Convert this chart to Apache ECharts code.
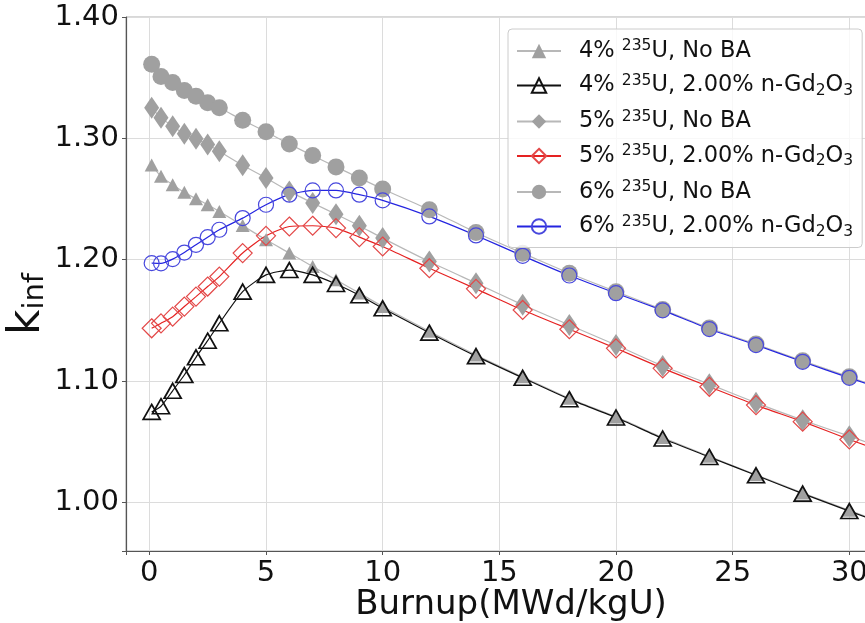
<!DOCTYPE html>
<html>
<head>
<meta charset="utf-8">
<script src="https://cdn.jsdelivr.net/npm/echarts@6/dist/echarts.min.js"></script>
<style>
  html, body { margin: 0; padding: 0; background: #fff; }
  #chart { width: 865px; height: 623px; }
</style>
</head>
<body>
<div id="chart"></div>
<script>
// Burnup steps (MWd/kgU)
const burnup = [0.1, 0.5, 1, 1.5, 2, 2.5, 3, 4, 5, 6, 7, 8, 9, 10, 12, 14, 16, 18, 20, 22, 24, 26, 28, 30, 32];

// k-infinity per case
const k4NoBA = [1.278, 1.2687, 1.2618, 1.2555, 1.2503, 1.2453, 1.2398, 1.2281, 1.2164, 1.2055, 1.1944, 1.1835, 1.1725, 1.1615, 1.141, 1.1215, 1.1035, 1.0858, 1.0705, 1.0535, 1.038, 1.0228, 1.0078, 0.9935, 0.979];
const k4Gd   = [1.0746, 1.0793, 1.092, 1.105, 1.1196, 1.1333, 1.1476, 1.1737, 1.1875, 1.1915, 1.1875, 1.18, 1.1707, 1.16, 1.1399, 1.1206, 1.1027, 1.0851, 1.07, 1.0527, 1.0375, 1.0224, 1.0073, 0.9929, 0.9785];
const k5NoBA = [1.3252, 1.3169, 1.31, 1.3037, 1.2996, 1.2949, 1.2893, 1.2778, 1.2674, 1.2563, 1.2467, 1.2375, 1.228, 1.2178, 1.1985, 1.1807, 1.1628, 1.1462, 1.1297, 1.1124, 1.0975, 1.0821, 1.0678, 1.0546, 1.041];
const k5Gd   = [1.1435, 1.1476, 1.1531, 1.1614, 1.1696, 1.1779, 1.1861, 1.2055, 1.2197, 1.2274, 1.228, 1.2261, 1.2186, 1.2109, 1.193, 1.176, 1.1586, 1.1427, 1.127, 1.1105, 1.0953, 1.0802, 1.0666, 1.0519, 1.038];
const k6NoBA = [1.361, 1.351, 1.346, 1.3395, 1.3348, 1.3293, 1.3252, 1.315, 1.3054, 1.2953, 1.2858, 1.2765, 1.2674, 1.2583, 1.2412, 1.2225, 1.2054, 1.1889, 1.1737, 1.159, 1.1437, 1.1305, 1.1167, 1.1035, 1.090];
const k6Gd   = [1.1972, 1.197, 1.2005, 1.2059, 1.2123, 1.2186, 1.2247, 1.2343, 1.2453, 1.2536, 1.2571, 1.2571, 1.2536, 1.2489, 1.2357, 1.22, 1.2032, 1.187, 1.1724, 1.1583, 1.1429, 1.1297, 1.1159, 1.1027, 1.0895];

// Legend labels (rich text: superscript mass number, subscripted formula)
const seriesNames = ['4% 235U, No BA', '4% 235U, 2.00% n-Gd2O3', '5% 235U, No BA', '5% 235U, 2.00% n-Gd2O3', '6% 235U, No BA', '6% 235U, 2.00% n-Gd2O3'];
const legendRich = {
  '4% 235U, No BA': '{t|4% }{sup|235}{t|U, No BA}',
  '4% 235U, 2.00% n-Gd2O3': '{t|4% }{sup|235}{t|U, 2.00% n-Gd}{sub|2}{t|O}{sub|3}',
  '5% 235U, No BA': '{t|5% }{sup|235}{t|U, No BA}',
  '5% 235U, 2.00% n-Gd2O3': '{t|5% }{sup|235}{t|U, 2.00% n-Gd}{sub|2}{t|O}{sub|3}',
  '6% 235U, No BA': '{t|6% }{sup|235}{t|U, No BA}',
  '6% 235U, 2.00% n-Gd2O3': '{t|6% }{sup|235}{t|U, 2.00% n-Gd}{sub|2}{t|O}{sub|3}'
};

const FONT = 'DejaVu Sans';
const pairs = ys => burnup.map((x, i) => [x, ys[i]]);

function lineSeries(name, ys, symbol, size, item, line) {
  return {
    name, type: 'line', data: pairs(ys),
    symbol, symbolSize: size,
    smooth: 0.2,
    itemStyle: item,
    lineStyle: line,
    emphasis: { disabled: true },
    clip: true
  };
}

const chart = echarts.init(document.getElementById('chart'), null, { renderer: 'canvas' });
chart.setOption({
  animation: false,
  backgroundColor: '#fff',
  grid: {
    left: 126, top: 17, right: -31, bottom: 72,
    outerBoundsMode: 'none', containLabel: false,
    show: true, borderColor: '#b0b0b0', borderWidth: 1
  },
  xAxis: {
    type: 'value', min: -1, max: 32,
    name: 'Burnup(MWd/kgU)', nameLocation: 'middle', nameGap: 37, nameMoveOverlap: false,
    nameTextStyle: { fontFamily: FONT, fontSize: 34, color: '#111' },
    axisLine: { show: true, onZero: false, lineStyle: { color: '#555', width: 1.2 } },
    axisTick: { show: true, length: 4, lineStyle: { color: '#555' } },
    axisLabel: {
      fontFamily: FONT, fontSize: 29, color: '#111', margin: 8,
      formatter: v => (Math.abs(v % 5) < 1e-9 && v >= 0 && v <= 30) ? String(v) : ''
    },
    splitLine: { show: true, lineStyle: { color: '#dcdcdc', width: 1 } }
  },
  yAxis: {
    type: 'value', min: 0.96, max: 1.40,
    name: '{k|k}{s|inf}', nameLocation: 'middle', nameGap: 76, nameRotate: 90, nameMoveOverlap: false,
    nameTextStyle: {
      padding: [0, 40, 0, 0],
      rich: {
        k: { fontFamily: FONT, fontSize: 44, color: '#111', lineHeight: 44, verticalAlign: 'top' },
        s: { fontFamily: FONT, fontSize: 29, color: '#111', lineHeight: 30, verticalAlign: 'bottom' }
      }
    },
    axisLine: { show: true, onZero: false, lineStyle: { color: '#555', width: 1.2 } },
    axisTick: { show: true, length: 4, lineStyle: { color: '#555' } },
    axisLabel: {
      fontFamily: FONT, fontSize: 29, color: '#111', margin: 7,
      formatter: v => (v < 0.98 ? '' : v.toFixed(2))
    },
    splitLine: { show: true, lineStyle: { color: '#dcdcdc', width: 1 } }
  },
  legend: {
    data: seriesNames,
    orient: 'vertical',
    left: 508, top: 29,
    padding: [9, 9, 8, 8],
    itemWidth: 44, itemHeight: 18, itemGap: 10,
    backgroundColor: 'rgba(255,255,255,0.8)',
    borderColor: '#cccccc', borderWidth: 1, borderRadius: 4,
    selectedMode: false,
    formatter: name => legendRich[name],
    textStyle: {
      padding: [0, 0, 0, 13],
      rich: {
        t: { fontFamily: FONT, fontSize: 22.5, color: '#111', lineHeight: 26 },
        sup: { fontFamily: FONT, fontSize: 15.5, color: '#111', lineHeight: 20, verticalAlign: 'top' },
        sub: { fontFamily: FONT, fontSize: 15.5, color: '#111', lineHeight: 16, verticalAlign: 'bottom' }
      }
    }
  },
  series: [
    lineSeries(seriesNames[0], k4NoBA, 'triangle', [14, 13], { color: '#a0a0a0' }, { color: '#b8b8b8', width: 1.2 }),
    lineSeries(seriesNames[1], k4Gd, 'triangle', [17, 15], { color: 'rgba(0,0,0,0)', borderColor: '#111', borderWidth: 1.7 }, { color: '#111', width: 1.2 }),
    lineSeries(seriesNames[2], k5NoBA, 'diamond', [15, 22], { color: '#a0a0a0' }, { color: '#b8b8b8', width: 1.2 }),
    lineSeries(seriesNames[3], k5Gd, 'diamond', [19, 19], { color: 'rgba(0,0,0,0)', borderColor: '#e34848', borderWidth: 1.2 }, { color: '#e52222', width: 1.2 }),
    lineSeries(seriesNames[4], k6NoBA, 'circle', 17, { color: '#a0a0a0' }, { color: '#b8b8b8', width: 1.2 }),
    lineSeries(seriesNames[5], k6Gd, 'circle', 15, { color: 'rgba(0,0,0,0)', borderColor: '#4848dd', borderWidth: 1.2 }, { color: '#2424e0', width: 1.2 })
  ]
});
</script>
</body>
</html>
